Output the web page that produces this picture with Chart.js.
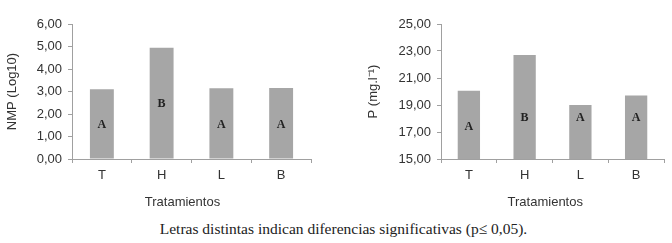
<!DOCTYPE html>
<html>
<head>
<meta charset="utf-8">
<script src="https://cdn.jsdelivr.net/npm/chart.js@4.4.0/dist/chart.umd.min.js"></script>
<style>
  body { margin: 0; background: #fff; width: 672px; height: 243px; overflow: hidden; position: relative; }
  canvas { position: absolute; top: 0; }
  #leftChart { left: 0; }
  #rightChart { left: 336px; }
  .caption {
    position: absolute; top: 220px; left: 0; width: 672px; padding-left: 15px; box-sizing: border-box;
    text-align: center; font-family: "Liberation Serif", "Times New Roman", serif; font-size: 15.5px; color: #222;
  }
</style>
</head>
<body>
<canvas id="leftChart" width="336" height="215"></canvas>
<canvas id="rightChart" width="336" height="215"></canvas>
<div class="caption">Letras distintas indican diferencias significativas (p≤ 0,05).</div>
<script>
// Data
const treatments = ['T', 'H', 'L', 'B'];

const nmpValues = [3.10, 4.95, 3.15, 3.16];     // NMP (Log10)
const nmpLetters = ['A', 'B', 'A', 'A'];
const nmpLetterPos = [1.52, 2.45, 1.52, 1.52];  // where the letters sit on the y scale

const pValues = [20.05, 22.7, 19.0, 19.7];      // P (mg.l-1)
const pLetters = ['A', 'B', 'A', 'A'];
const pLetterPos = [17.35, 18.05, 18.05, 18.05];

const barColor = '#a6a6a6';
const axisColor = '#a0a0a0';
const textColor = '#333';

// Draw the significance letters inside the bars
const letterPlugin = {
  id: 'letters',
  afterDatasetsDraw(chart, args, opts) {
    const ctx = chart.ctx;
    const xScale = chart.scales.x;
    const yScale = chart.scales.y;
    ctx.save();
    ctx.font = 'bold 12px "Liberation Serif", serif';
    ctx.fillStyle = '#222';
    ctx.textAlign = 'center';
    ctx.textBaseline = 'middle';
    opts.letters.forEach((letter, i) => {
      ctx.fillText(letter, xScale.getPixelForValue(i), yScale.getPixelForValue(opts.positions[i]));
    });
    ctx.restore();
  }
};

function makeChart(id, values, cfg) {
  return new Chart(document.getElementById(id), {
    type: 'bar',
    data: {
      labels: treatments,
      datasets: [{
        data: values,
        backgroundColor: barColor,
        borderWidth: 0,
        barPercentage: 0.4,
        categoryPercentage: 1.0
      }]
    },
    options: {
      responsive: false,
      animation: false,
      layout: { padding: cfg.padding },
      plugins: {
        legend: { display: false },
        tooltip: { enabled: false },
        letters: { letters: cfg.letters, positions: cfg.letterPos }
      },
      scales: {
        x: {
          grid: { offset: true, drawOnChartArea: false, color: axisColor, tickLength: 4 },
          border: { color: axisColor },
          ticks: { color: textColor, font: { family: 'Liberation Sans', size: 13 }, padding: 5 },
          title: {
            display: true, text: cfg.xTitle, color: textColor,
            font: { family: 'Liberation Sans', size: 13 }, padding: { top: 0, bottom: 5 }
          },
          afterFit(scale) { scale.height = 56; scale.paddingLeft = 0; scale.paddingRight = 0; }
        },
        y: {
          min: cfg.min, max: cfg.max,
          grid: { drawOnChartArea: false, color: axisColor, tickLength: 4 },
          border: { color: axisColor },
          ticks: {
            stepSize: cfg.step, color: textColor, padding: 6,
            font: { family: 'Liberation Sans', size: 13 },
            callback: v => v.toFixed(2).replace('.', ',')
          },
          title: {
            display: true, text: cfg.yTitle, color: textColor,
            font: { family: 'Liberation Sans', size: 13 }, padding: { top: 5, bottom: 0 }
          },
          afterFit(scale) { scale.width = cfg.yWidth; scale.paddingTop = 0; scale.paddingBottom = 0; }
        }
      }
    },
    plugins: [letterPlugin]
  });
}

makeChart('leftChart', nmpValues, {
  min: 0, max: 6, step: 1,
  yTitle: 'NMP (Log10)', xTitle: 'Tratamientos     ',
  letters: nmpLetters, letterPos: nmpLetterPos,
  padding: { top: 24, right: 25, left: 0, bottom: 0 },
  yWidth: 72
});

makeChart('rightChart', pValues, {
  min: 15, max: 25, step: 2,
  yTitle: 'P (mg.l\u207B\u00B9)', xTitle: 'Tratamientos    ',
  letters: pLetters, letterPos: pLetterPos,
  padding: { top: 24, right: 8, left: 25, bottom: 0 },
  yWidth: 80
});
</script>
</body>
</html>
